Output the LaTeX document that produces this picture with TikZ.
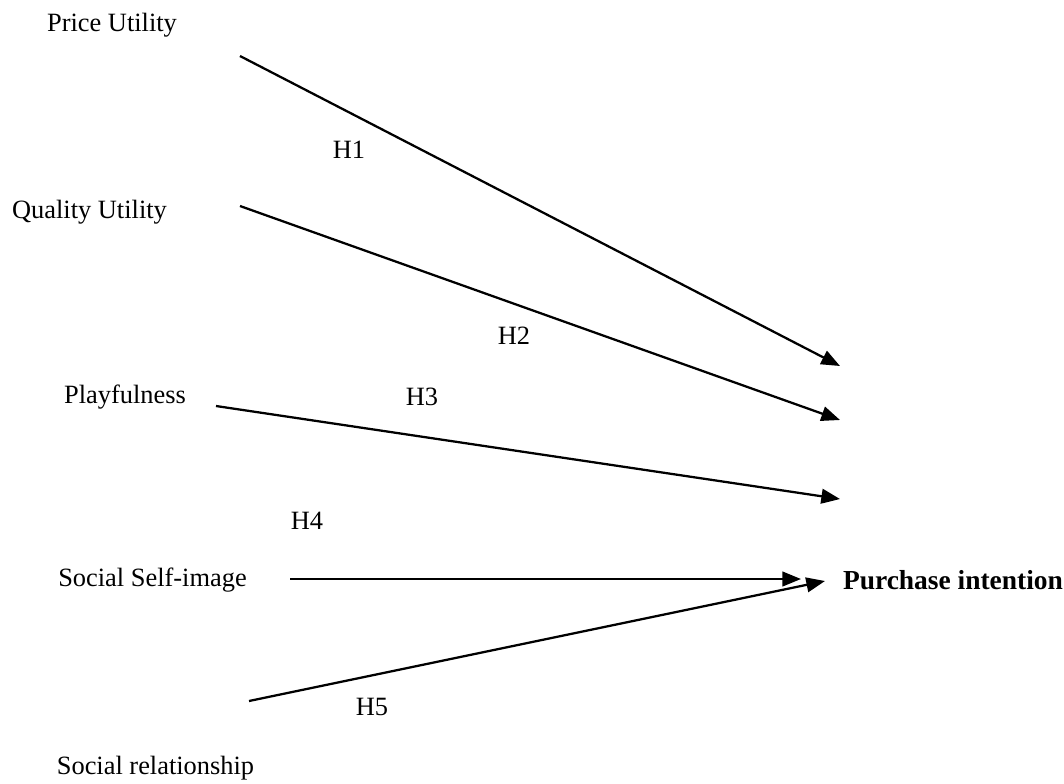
\documentclass[tikz,border=0pt]{standalone}
\usepackage{fontspec}
\setmainfont{Liberation Serif}
\usetikzlibrary{arrows.meta}

\begin{document}
\begin{tikzpicture}[x=0.75pt, y=-0.75pt,
        construct/.style = {font=\fontsize{19.8}{22}\selectfont, inner sep=0pt},
        hyp/.style = {font=\fontsize{19.8}{22}\selectfont, inner sep=0pt},
        path/.style = {line width=1.7pt, -{Triangle[length=14pt, width=11pt]}}]
        \useasboundingbox (0, 0) rectangle (1064, 783);

        \node[construct] (price) at (112, 25) {Price Utility};
        \node[construct] (quality) at (89.5, 212) {Quality Utility};
        \node[construct] (play) at (125, 397) {Playfulness};
        \node[construct] (self) at (152.5, 580) {Social Self-image};
        \node[construct, font=\fontsize{20.6}{22}\selectfont\bfseries] (pi) at (953, 580) {Purchase intention};
        \node[construct] (rel) at (155.5, 768) {Social relationship};

        \coordinate (s1) at (240, 56);
        \coordinate (s2) at (240, 206);
        \coordinate (s3) at (216, 406);
        \coordinate (s4) at (290, 579);
        \coordinate (s5) at (249, 701);
        \coordinate (e1) at (840, 366);
        \coordinate (e2) at (840, 420);
        \coordinate (e3) at (840, 499);
        \coordinate (e4) at (801, 579);
        \coordinate (e5) at (825, 581);

        \draw[path] (s1) -- (e1);
        \draw[path] (s2) -- (e2);
        \draw[path] (s3) -- (e3);
        \draw[path] (s4) -- (e4);
        \draw[path] (s5) -- (e5);

        \node[hyp] (h1) at (349, 150) {H1};
        \node[hyp] (h2) at (514, 336) {H2};
        \node[hyp] (h3) at (422, 397) {H3};
        \node[hyp] (h4) at (307, 521) {H4};
        \node[hyp] (h5) at (372, 707) {H5};
\end{tikzpicture}
\end{document}
